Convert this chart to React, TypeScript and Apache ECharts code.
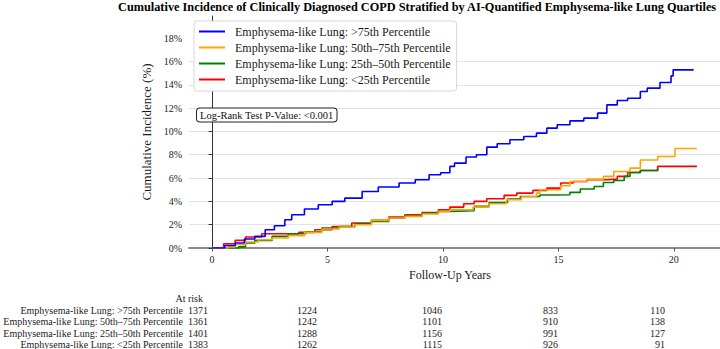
import React, { useEffect, useRef } from "react";
import * as echarts from "echarts";

const FONT = "Liberation Serif";

const titleText =
  "Cumulative Incidence of Clinically Diagnosed COPD Stratified by AI-Quantified Emphysema-like Lung Quartiles";

const groupNames = [
  "Emphysema-like Lung: >75th Percentile",
  "Emphysema-like Lung: 50th\u201375th Percentile",
  "Emphysema-like Lung: 25th\u201350th Percentile",
  "Emphysema-like Lung: <25th Percentile",
];
const groupColors = ["#0000ff", "#ffa500", "#008000", "#ff0000"];

// Kaplan-Meier style cumulative incidence (years, %)
const q4Years = [0, 0.55, 1.0, 1.4, 1.85, 2.3, 2.7, 3.15, 3.45, 4.0, 4.6, 5.2, 5.75, 6.5, 7.2, 8.1, 8.8, 9.4, 9.9, 10.3, 10.5, 11.0, 11.45, 11.9, 12.35, 12.9, 13.5, 14.05, 14.5, 14.95, 15.5, 16.1, 16.7, 17.1, 17.55, 18.0, 18.55, 18.85, 19.4, 19.88, 19.97, 20.86];
const q4Pct = [0, 0.22, 0.43, 0.77, 1.0, 1.57, 1.91, 2.42, 2.85, 3.34, 3.71, 4.0, 4.28, 4.85, 5.23, 5.57, 5.85, 6.28, 6.45, 7.0, 7.28, 7.8, 8.0, 8.65, 8.94, 9.28, 9.56, 9.85, 10.28, 10.57, 10.9, 11.14, 11.57, 12.28, 12.65, 12.85, 13.42, 13.71, 14.19, 14.76, 15.28, 15.28];

const q3Years = [0, 0.7, 1.0, 1.45, 2.0, 2.6, 3.3, 4.0, 4.75, 5.5, 6.2, 6.9, 7.65, 8.35, 9.1, 9.8, 10.3, 11.3, 12.0, 12.75, 13.4, 14.05, 14.2, 15.1, 15.5, 16.25, 16.95, 17.4, 18.1, 18.55, 19.3, 20.05, 21.0];
const q3Pct = [0, 0.1, 0.28, 0.51, 0.71, 0.86, 1.05, 1.34, 1.63, 1.8, 2.0, 2.37, 2.57, 2.71, 2.91, 3.14, 3.28, 3.51, 3.8, 4.14, 4.4, 4.71, 5.0, 5.34, 5.71, 5.91, 6.14, 6.56, 6.85, 7.55, 7.85, 8.54, 8.54];

const q2Years = [0, 1.15, 1.45, 1.85, 2.6, 3.3, 4.05, 4.75, 5.5, 6.2, 6.9, 7.65, 8.35, 9.1, 9.8, 10.3, 11.35, 12.0, 12.8, 13.35, 14.2, 14.95, 15.5, 15.95, 16.55, 16.95, 17.4, 17.85, 18.1, 18.55, 19.3];
const q2Pct = [0, 0.1, 0.43, 0.65, 1.0, 1.22, 1.4, 1.71, 1.85, 2.08, 2.28, 2.57, 2.77, 3.0, 3.14, 3.19, 3.57, 3.9, 4.2, 4.42, 4.54, 4.57, 4.77, 5.06, 5.28, 5.62, 5.79, 6.14, 6.48, 6.65, 6.85];

const q1Years = [0, 0.5, 1.0, 1.45, 2.15, 3.75, 4.45, 5.2, 6.05, 6.9, 7.65, 8.35, 9.1, 9.8, 10.3, 10.9, 11.35, 11.9, 12.65, 13.2, 13.9, 14.5, 15.1, 15.65, 16.25, 17.1, 17.55, 18.0, 18.55, 19.3, 21.0];
const q1Pct = [0, 0.37, 0.65, 0.94, 1.22, 1.34, 1.57, 1.85, 2.14, 2.37, 2.65, 2.85, 3.05, 3.28, 3.51, 3.8, 4.0, 4.22, 4.51, 4.71, 4.94, 5.14, 5.57, 5.71, 5.85, 5.91, 6.14, 6.48, 6.65, 7.0, 7.0];

const xTicks = [0, 5, 10, 15, 20];
const yTicks = [0, 2, 4, 6, 8, 10, 12, 14, 16, 18];

// Numbers at risk at each x tick, one list per group
const atRiskQ4 = [1371, 1224, 1046, 833, 110];
const atRiskQ3 = [1361, 1242, 1101, 910, 138];
const atRiskQ2 = [1401, 1288, 1156, 991, 127];
const atRiskQ1 = [1383, 1262, 1115, 926, 91];

const pValueText = "Log-Rank Test P-Value: <0.001";

const zip = (xs: number[], ys: number[]) => xs.map((x, i) => [x, ys[i]]);

export default function App() {
  const ref = useRef<HTMLDivElement>(null);

  useEffect(() => {
    document.body.style.margin = "0";
    if (!ref.current) return;
    const chart = echarts.init(ref.current, undefined, { renderer: "svg" });

    const curves = [zip(q4Years, q4Pct), zip(q3Years, q3Pct), zip(q2Years, q2Pct), zip(q1Years, q1Pct)];
    const atRisk = [atRiskQ4, atRiskQ3, atRiskQ2, atRiskQ1];

    const cell = (text: string, x: number, y: number) => ({
      type: "text",
      x,
      y,
      style: {
        text,
        fontFamily: FONT,
        fontSize: 10,
        fill: "#1a1a1a",
        align: "right",
        verticalAlign: "middle",
      },
    });

    // right edges of the at-risk count columns
    const colRight = [208, 317, 442, 558, 665];
    const rowY = [310, 321.5, 333, 344.5];
    const tableText: any[] = [cell("At risk", 203, 298.5)];
    groupNames.forEach((name, r) => {
      tableText.push(cell(name, 183, rowY[r]));
      atRisk[r].forEach((n, c) => tableText.push(cell(String(n), colRight[c], rowY[r])));
    });

    chart.setOption({
      animation: false,
      title: {
        text: titleText,
        left: 118,
        top: 1,
        padding: 0,
        textStyle: { fontFamily: FONT, fontSize: 12.3, fontWeight: "bold", color: "#000" },
      },
      legend: {
        orient: "vertical",
        left: 194,
        top: 21,
        icon: "rect",
        itemWidth: 26,
        itemHeight: 2,
        itemGap: 3,
        padding: [4, 6, 5, 5],
        backgroundColor: "#fff",
        borderColor: "#d6d6d6",
        borderWidth: 1,
        borderRadius: 3,
        data: groupNames,
        textStyle: { fontFamily: FONT, fontSize: 12, lineHeight: 13, color: "#1a1a1a", padding: [0, 0, 0, 5] },
      },
      grid: { left: 189, right: 0, top: 16, bottom: 101 },
      xAxis: {
        type: "value",
        min: -1,
        max: 22,
        name: "Follow-Up Years",
        nameLocation: "middle",
        nameGap: 20,
        nameTextStyle: { fontFamily: FONT, fontSize: 12, color: "#1a1a1a", padding: [0, 9, 0, 0] },
        axisLine: { lineStyle: { color: "#8a8a8a", width: 2 } },
        axisTick: { customValues: xTicks, length: 3.5, lineStyle: { color: "#555" } },
        axisLabel: { customValues: xTicks, margin: 6, fontFamily: FONT, fontSize: 10, color: "#222" },
        splitLine: { show: false },
      },
      yAxis: {
        type: "value",
        min: 0,
        max: 19.9,
        interval: 2,
        name: "Cumulative Incidence (%)",
        nameLocation: "middle",
        nameGap: 29,
        nameTextStyle: { fontFamily: FONT, fontSize: 13, color: "#1a1a1a" },
        axisLine: { show: true, lineStyle: { color: "#333", width: 1 } },
        axisTick: { customValues: yTicks, length: 3.5, lineStyle: { color: "#333" } },
        axisLabel: {
          customValues: yTicks,
          margin: 7,
          fontFamily: FONT,
          fontSize: 10,
          color: "#222",
          formatter: (v: number) => `${v}%`,
        },
        splitLine: { show: true, showMaxLine: false, lineStyle: { color: "#e3e3e3", width: 1 } },
      },
      series: curves.map((data, i) => ({
        name: groupNames[i],
        type: "line",
        step: "end",
        symbol: "none",
        data,
        color: groupColors[i],
        lineStyle: { color: groupColors[i], width: 1.6 },
        z: 2 + (3 - i),
      })),
      graphic: [
        {
          type: "text",
          left: 196,
          top: 107.5,
          z: 10,
          style: {
            text: pValueText,
            fontFamily: FONT,
            fontSize: 10.5,
            fill: "#111",
            backgroundColor: "#fff",
            borderColor: "#222",
            borderWidth: 1,
            borderRadius: 3,
            padding: [1, 3, 1, 3],
          },
        },
        ...tableText,
      ],
    });

    return () => chart.dispose();
  }, []);

  return <div ref={ref} style={{ width: 720, height: 349 }} />;
}
